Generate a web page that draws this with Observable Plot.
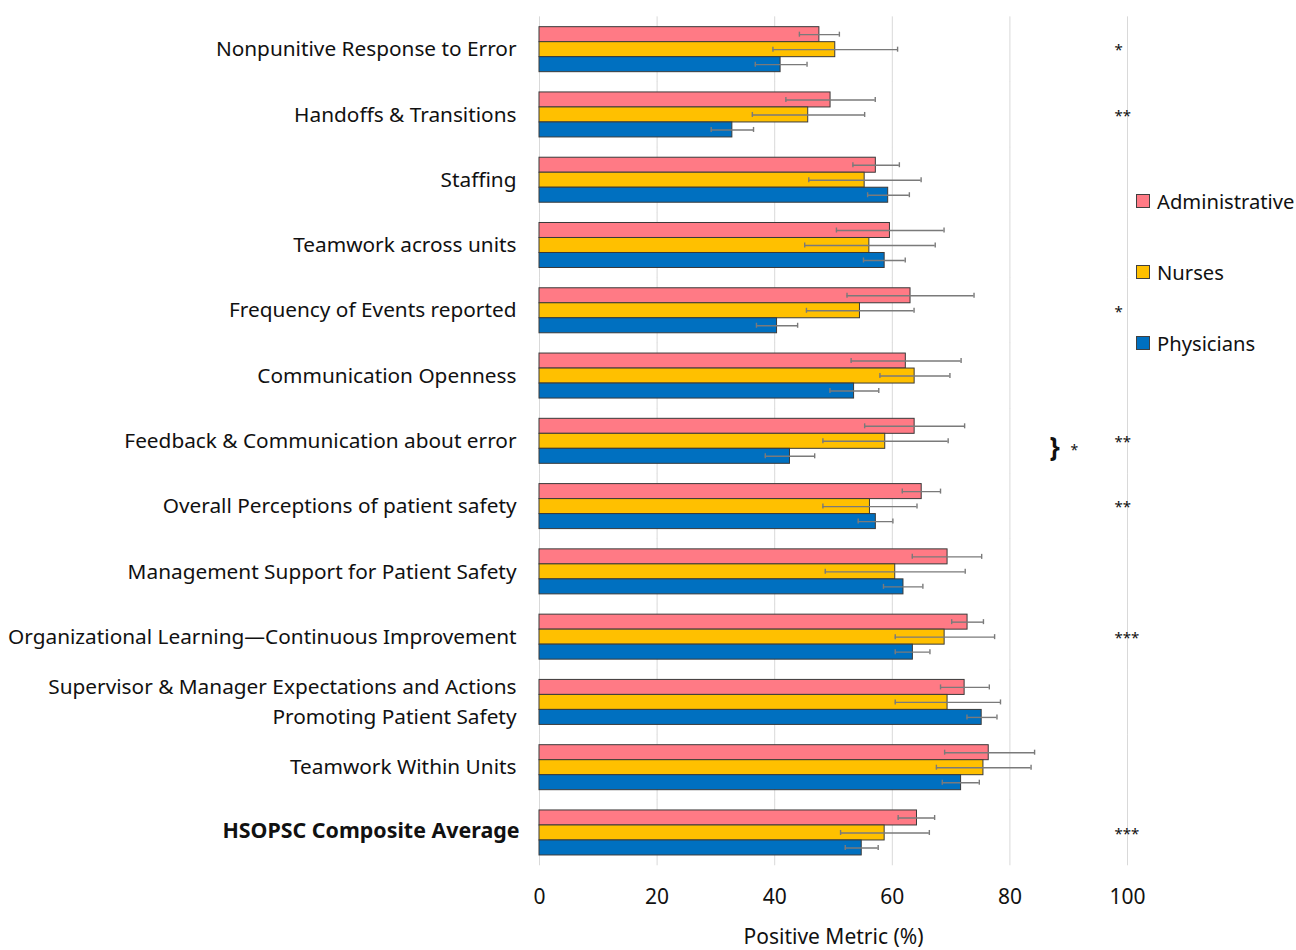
<!DOCTYPE html>
<html>
<head>
<meta charset="utf-8">
<script src="https://cdn.jsdelivr.net/npm/d3@7"></script>
<script src="https://cdn.jsdelivr.net/npm/@observablehq/plot@0.6"></script>
<style>
  html, body { margin: 0; padding: 0; background: #fff; }
  #wrap { position: relative; width: 1296px; height: 950px; font-family: "Noto Sans", sans-serif; }
  #legend { position: absolute; left: 1136px; top: 0; }
  .lg { position: absolute; left: 0; display: flex; align-items: center; white-space: nowrap; font-size: 20.2px; color: #111; }
  .sw { width: 12px; height: 12px; border: 1px solid #404040; margin-right: 7px; }
</style>
</head>
<body>
<div id="wrap"><div id="legend"></div></div>
<script>
const categories = [
  "Nonpunitive Response to Error",
  "Handoffs & Transitions",
  "Staffing",
  "Teamwork across units",
  "Frequency of Events reported",
  "Communication Openness",
  "Feedback & Communication about error",
  "Overall Perceptions of patient safety",
  "Management Support for Patient Safety",
  "Organizational Learning—Continuous Improvement",
  "Supervisor & Manager Expectations and Actions\nPromoting Patient Safety",
  "Teamwork Within Units",
  "HSOPSC Composite Average"
];
const boldCategory = "HSOPSC Composite Average";
const groups = ["Administrative", "Nurses", "Physicians"];
const colors = ["#FF7A85", "#FFC000", "#0070C0"];

const adminVals = [47.6, 49.5, 57.2, 59.6, 63.1, 62.3, 63.8, 65.0, 69.4, 72.8, 72.3, 76.4, 64.2];
const adminLo   = [44.2, 41.9, 53.3, 50.5, 52.3, 53.0, 55.3, 61.7, 63.4, 70.1, 68.2, 68.9, 61.0];
const adminHi   = [51.0, 57.1, 61.2, 68.8, 73.9, 71.7, 72.3, 68.2, 75.2, 75.5, 76.5, 84.2, 67.2];

const nurseVals = [50.3, 45.7, 55.3, 56.1, 54.5, 63.8, 58.8, 56.2, 60.5, 68.9, 69.4, 75.5, 58.7];
const nurseLo   = [39.7, 36.2, 45.8, 45.1, 45.4, 57.9, 48.2, 48.2, 48.6, 60.5, 60.5, 67.5, 51.2];
const nurseHi   = [60.9, 55.3, 64.9, 67.3, 63.7, 69.8, 69.5, 64.2, 72.4, 77.4, 78.4, 83.6, 66.3];

const physVals  = [41.0, 32.8, 59.3, 58.7, 40.4, 53.5, 42.6, 57.2, 61.9, 63.5, 75.2, 71.7, 54.8];
const physLo    = [36.7, 29.2, 55.8, 55.1, 36.9, 49.4, 38.4, 54.2, 58.5, 60.5, 72.7, 68.5, 52.0];
const physHi    = [45.5, 36.4, 62.9, 62.2, 43.9, 57.7, 46.8, 60.1, 65.2, 66.4, 77.8, 74.8, 57.6];

const significance = ["*", "**", "", "", "*", "", "**", "**", "", "***", "", "", "***"];
const bracketCategory = "Feedback & Communication about error";
const bracketStar = "*";

const xTicks = [0, 20, 40, 60, 80, 100];

const series = [
  [adminVals, adminLo, adminHi],
  [nurseVals, nurseLo, nurseHi],
  [physVals, physLo, physHi]
];
const rows = [];
categories.forEach((c, i) => {
  groups.forEach((g, j) => {
    rows.push({category: c, group: g, value: series[j][0][i], lo: series[j][1][i], hi: series[j][2][i]});
  });
});
const labelRows = categories.map(c => ({category: c}));
const sigRows = categories.map((c, i) => ({category: c, sig: significance[i]})).filter(d => d.sig);
const bracketRows = [{category: bracketCategory}];

const errStroke = "#7a7a7a";

const chart = Plot.plot({
  width: 1296,
  height: 950,
  marginLeft: 539,
  marginRight: 169,
  marginTop: 17,
  marginBottom: 92,
  style: {fontFamily: "Noto Sans, sans-serif", fontSize: "21px", color: "#111", background: "#fff"},
  x: {domain: [0, 100], ticks: xTicks, tickSize: 0, tickPadding: 33, label: "Positive Metric (%)", labelAnchor: "center", labelOffset: 88, labelArrow: false},
  y: {domain: groups, axis: null, padding: 0},
  fy: {domain: categories, axis: null, paddingInner: 0.28, paddingOuter: 0.082, align: 0.81, round: false},
  color: {domain: groups, range: colors},
  marks: [
    Plot.ruleX(xTicks, {stroke: "#d9d9d9", strokeWidth: 1, insetTop: -9.3, insetBottom: -9.3}),
    Plot.barX(rows, {x: "value", y: "group", fy: "category", fill: "group", stroke: "#3a3a3a", strokeWidth: 1}),
    Plot.ruleY(rows, {y: "group", fy: "category", x1: "lo", x2: "hi", stroke: errStroke, strokeWidth: 1.4}),
    Plot.tickX(rows, {x: "lo", y: "group", fy: "category", stroke: errStroke, strokeWidth: 1.4, insetTop: 5, insetBottom: 5}),
    Plot.tickX(rows, {x: "hi", y: "group", fy: "category", stroke: errStroke, strokeWidth: 1.4, insetTop: 5, insetBottom: 5}),
    Plot.text(labelRows.filter(d => d.category !== boldCategory), {fy: "category", text: "category", frameAnchor: "left", textAnchor: "end", dx: -23, dy: -3, fontSize: 20.8, lineHeight: 1.45, fill: "#111"}),
    Plot.text(labelRows.filter(d => d.category === boldCategory), {fy: "category", text: "category", frameAnchor: "left", textAnchor: "end", dx: -20, dy: -2, fontSize: 21.4, fontWeight: "bold", fill: "#111"}),
    Plot.text(sigRows, {fy: "category", text: "sig", frameAnchor: "right", textAnchor: "start", dx: -13, dy: 1, fontSize: 15, fill: "#111"}),
    Plot.text(bracketRows, {fy: "category", text: () => "}", frameAnchor: "right", textAnchor: "start", dx: -78, dy: 6, fontSize: 26, fontWeight: "bold", fill: "#111"}),
    Plot.text(bracketRows, {fy: "category", text: () => bracketStar, frameAnchor: "right", textAnchor: "start", dx: -57, dy: 9, fontSize: 14, fill: "#111"})
  ]
});
document.getElementById("wrap").prepend(chart);

const legend = document.getElementById("legend");
const legendY = [201, 272, 343];
groups.forEach((g, i) => {
  const item = document.createElement("div");
  item.className = "lg";
  item.style.top = (legendY[i] - 14) + "px";
  item.style.height = "28px";
  const sw = document.createElement("div");
  sw.className = "sw";
  sw.style.background = colors[i];
  const tx = document.createElement("span");
  tx.textContent = g;
  item.appendChild(sw);
  item.appendChild(tx);
  legend.appendChild(item);
});
</script>
</body>
</html>
